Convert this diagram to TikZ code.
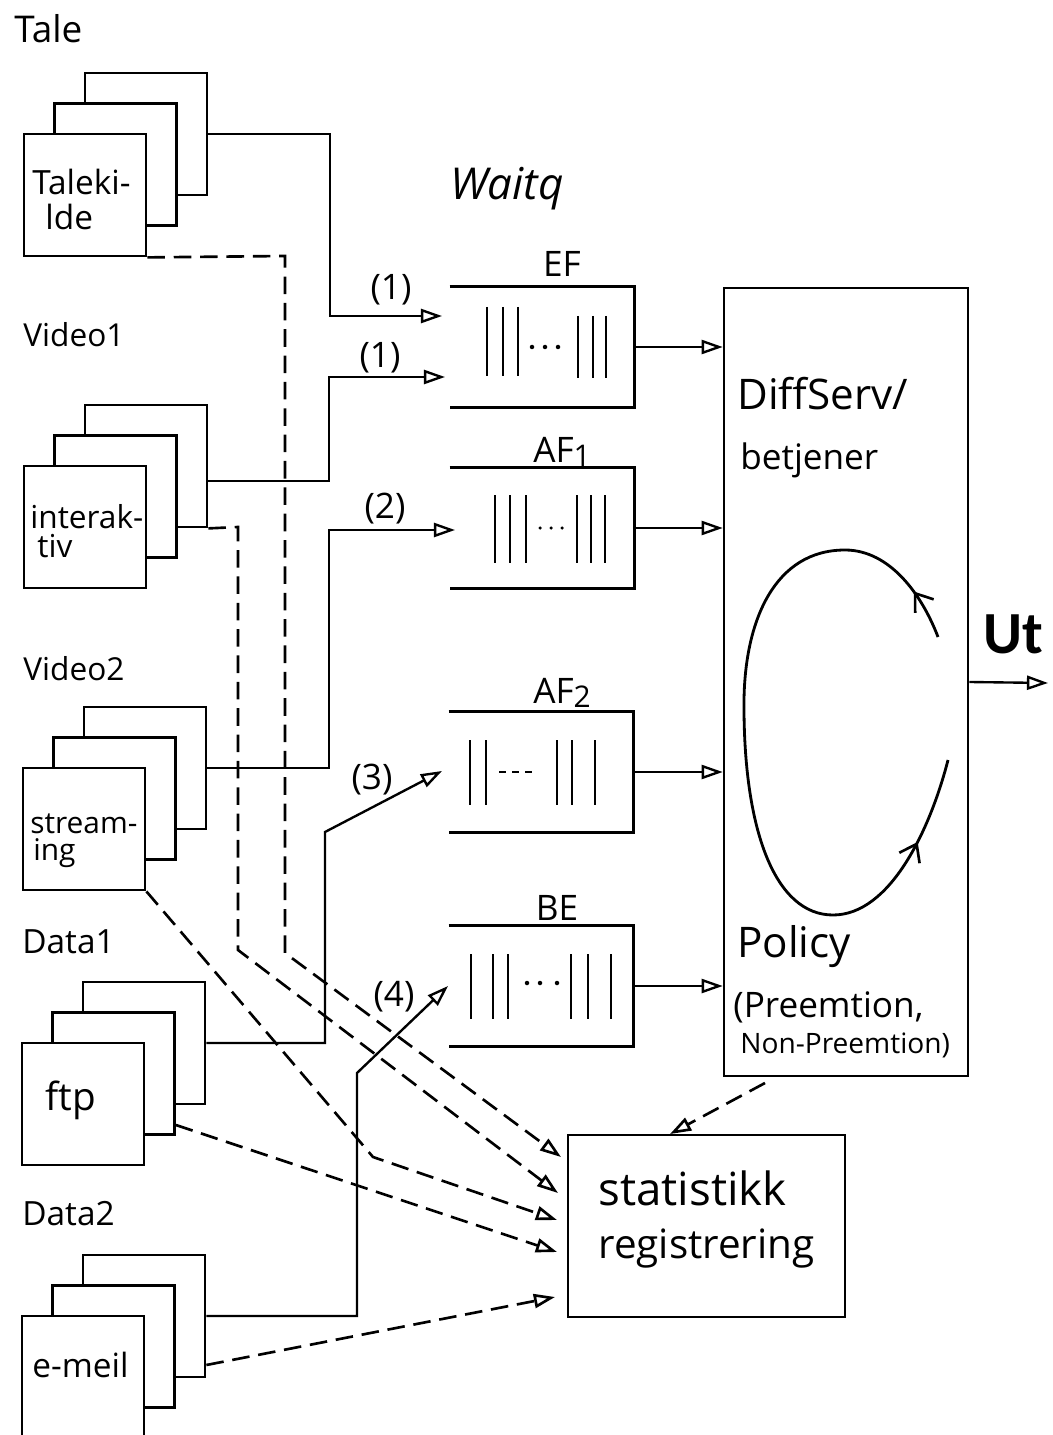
\documentclass[tikz,border=0pt]{standalone}
\usepackage{fontspec}
\setmainfont{Open Sans}
\newfontfamily\utfont{Carlito}
\usetikzlibrary{arrows.meta,decorations.markings,calc}
\newcommand\fsz[1]{\fontsize{#1}{#1}\selectfont}
\newcommand\srcstack[3]{%
  \node[srcbox] (#1B) at ({#2+61},{#3-61}) {};
  \node[srcbox] (#1M) at ({#2+30.5},{#3-30.5}) {};
  \node[srcbox] (#1F) at (#2,#3) {};
}
\begin{document}
\begin{tikzpicture}[x=0.02cm,y=-0.02cm,
  srcbox/.style={draw,line width=1.6pt,fill=white,minimum width=2.44cm,minimum height=2.44cm,inner sep=0pt},
  qbox/.style={minimum width=3.68cm,minimum height=2.42cm,inner sep=0pt},
  qline/.style={line width=1.7pt},
  conn/.style={line width=1.35pt},
  tip/.style={-{Triangle[open,length=12pt,width=8pt]}},
  dsh/.style={conn,line width=1.5pt,dash pattern=on 10pt off 5pt},
  bar/.style={line width=1.2pt},
  txt/.style={inner sep=0pt,text=black},
]
\fill[white] (0,0) rectangle (1052,1435);
\useasboundingbox (0,0) rectangle (1052,1435);

% ---------- source stacks ----------
\srcstack{tale}{85}{195}
\srcstack{vA}{85}{527}
\srcstack{vB}{84}{829}
\srcstack{dA}{83}{1104}
\srcstack{dB}{83}{1377}

% ---------- queues ----------
\node[qbox] (ef)  at (542,347) {};
\node[qbox] (af1) at (542,528) {};
\node[qbox] (af2) at (541,772) {};
\node[qbox] (be)  at (541,986) {};
\foreach \q in {ef,af1,af2,be}{
  \draw[qline] (\q.north west) -- (\q.north east) -- (\q.south east) -- (\q.south west);
}
% bars
\foreach \x in {487,503,518}{\draw[bar] (\x,307) -- (\x,376);}
\foreach \x in {578,593,606}{\draw[bar] (\x,316) -- (\x,378);}
\foreach \x in {532,545,558}{\fill (\x,347) circle[radius=0.045cm];}
\foreach \x in {495,510,526,577,591,605}{\draw[bar] (\x,495) -- (\x,563);}
\foreach \x in {540,551,562}{\fill (\x,528) circle[radius=0.035cm];}
\foreach \x in {470,486,557,572,595}{\draw[bar] (\x,740) -- (\x,805);}
\foreach \x in {499,512,525}{\draw[line width=1pt] (\x,772) -- ({\x+7},772);}
\foreach \x in {471,493,508,571,588,611}{\draw[bar] (\x,954) -- (\x,1019);}
\foreach \x in {527,540,557}{\fill (\x,983) circle[radius=0.045cm];}

% ---------- server box ----------
\node[draw,line width=1.5pt,minimum width=4.88cm,minimum height=15.76cm,inner sep=0pt] (ds) at (846,682) {};
\node[draw,line width=1.6pt,minimum width=5.54cm,minimum height=3.64cm,inner sep=0pt] (stat) at (706.5,1226) {};

% cycle
\draw[line width=1.6pt,postaction={decorate},
  decoration={markings,
    mark=at position 0.065 with {\arrow{Straight Barb[length=9pt,width=13pt,line width=1.5pt]}},
    mark=at position 0.89 with {\arrow{Straight Barb[length=9pt,width=13pt,line width=1.5pt]}}}]
  (938,637) .. controls (922,595) and (890,550) .. (845,550)
  .. controls (775,550) and (745,620) .. (744,700)
  .. controls (743,830) and (775,915) .. (833,915)
  .. controls (890,915) and (930,830) .. (948,760);

% ---------- coordinates for free ends ----------
\coordinate (in1) at (442,316);
\coordinate (in2) at (445,377);
\coordinate (in3) at (455,530);
\coordinate (in4) at (442,771);
\coordinate (in5) at (448,986);
\coordinate (s1) at (561,1157);
\coordinate (s2) at (558,1193);
\coordinate (s3) at (557,1220);
\coordinate (s4) at (557,1252);
\coordinate (s5) at (555,1297);
\coordinate (dsout) at (765,1083);
\coordinate (st0) at (670,1134);
\coordinate (utend) at (1048,683);

% ---------- solid flows ----------
\draw[conn,tip] (taleB.east) -| (330,316) -- (in1);
\draw[conn,tip] ([yshift=-0.3cm]vAB.east) -| (329,377) -- (in2);
\draw[conn,tip] (vBB.east) -| (329,530) -- (in3);
\draw[conn,tip] (dAB.east) -| (325,832) -- (in4);
\draw[conn,tip] (dBB.east) -| (357,1073) -- (in5);

\draw[conn,tip] (ef.east) -- (ds.west |- ef.east);
\draw[conn,tip] (af1.east) -- (ds.west |- af1.east);
\draw[conn,tip] (af2.east) -- (ds.west |- af2.east);
\draw[conn,tip] (be.east) -- (ds.west |- be.east);
\draw[conn,tip] (ds.east) -- (utend);

% ---------- dashed flows ----------
\draw[dsh,tip] (taleF.south east) -- (285,256) -- (285,953) -- (s1);
\draw[dsh,tip] (vAB.south east) -- (238,527) -- (238,950) -- (s2);
\draw[dsh,tip] (vBF.south east) -- (373,1157) -- (s3);
\draw[dsh,tip] ([yshift=-1.03cm]dAM.east) -- (s4);
\draw[dsh,tip] ([yshift=-0.98cm]dBB.east) -- (s5);
\draw[dsh,tip] (dsout) -- (st0);

% ---------- texts ----------
\node[txt,anchor=base west,font=\fsz{21}] (l1) at (14,43) {Tale};
\node[txt,anchor=base west,font=\fsz{19}] (l2) at (32,195) {Taleki-};
\node[txt,anchor=base west,font=\fsz{19}] (l3) at (45,230) {lde};
\node[txt,anchor=base west,font=\fsz{25}\itshape] (l4) at (450,200) {Waitq};
\node[txt,anchor=base west,font=\fsz{18}] (l5) at (23,347) {Video1};
\node[txt,anchor=base west,font=\fsz{18}] (l6) at (30,528) {interak-};
\node[txt,anchor=base west,font=\fsz{18}] (l7) at (37,557) {tiv};
\node[txt,anchor=base west,font=\fsz{18}] (l8) at (23,680) {Video2};
\node[txt,anchor=base west,font=\fsz{17}] (l9) at (30,833) {stream-};
\node[txt,anchor=base west,font=\fsz{17}] (l10) at (33,860) {ing};
\node[txt,anchor=base west,font=\fsz{19}] (l11) at (22,953) {Data1};
\node[txt,anchor=base west,font=\fsz{22}] (l12) at (45,1110) {ftp};
\node[txt,anchor=base west,font=\fsz{19}] (l13) at (22,1225) {Data2};
\node[txt,anchor=base west,font=\fsz{19}] (l14) at (32,1377) {e-meil};

\node[txt,anchor=base,font=\fsz{20}] (n1) at (391,300) {(1)};
\node[txt,anchor=base,font=\fsz{20}] (n2) at (380,368) {(1)};
\node[txt,anchor=base,font=\fsz{20}] (n3) at (385,518) {(2)};
\node[txt,anchor=base,font=\fsz{20}] (n4) at (372,789) {(3)};
\node[txt,anchor=base,font=\fsz{20}] (n5) at (394,1006) {(4)};

\node[txt,anchor=base,font=\fsz{20}] (q1) at (562,277) {EF};
\node[txt,anchor=base,font=\fsz{20}] (q2) at (562,462) {AF\raisebox{-0.25ex}{\fsz{17}1}};
\node[txt,anchor=base,font=\fsz{20}] (q3) at (562,703) {AF\raisebox{-0.25ex}{\fsz{17}2}};
\node[txt,anchor=base,font=\fsz{20}] (q4) at (557,920) {BE};

\node[txt,anchor=base west,font=\fsz{24}] (d1) at (737,410) {DiffServ/};
\node[txt,anchor=base west,font=\fsz{20}] (d2) at (740,470) {betjener};
\node[txt,anchor=base west,font=\fsz{24}] (d3) at (737,957) {Policy};
\node[txt,anchor=base west,font=\fsz{20}] (d4) at (733,1017) {(Preemtion,};
\node[txt,anchor=base west,font=\fsz{16}] (d5) at (740,1053) {Non-Preemtion)};

\node[txt,anchor=base west,font=\fsz{26}] (st1) at (598,1205) {statistikk};
\node[txt,anchor=base west,font=\fsz{23}] (st2) at (598,1258) {registrering};

\node[txt,anchor=base,font=\utfont\bfseries\fsz{34}] (ut) at (1013,653) {Ut};
\end{tikzpicture}
\end{document}
